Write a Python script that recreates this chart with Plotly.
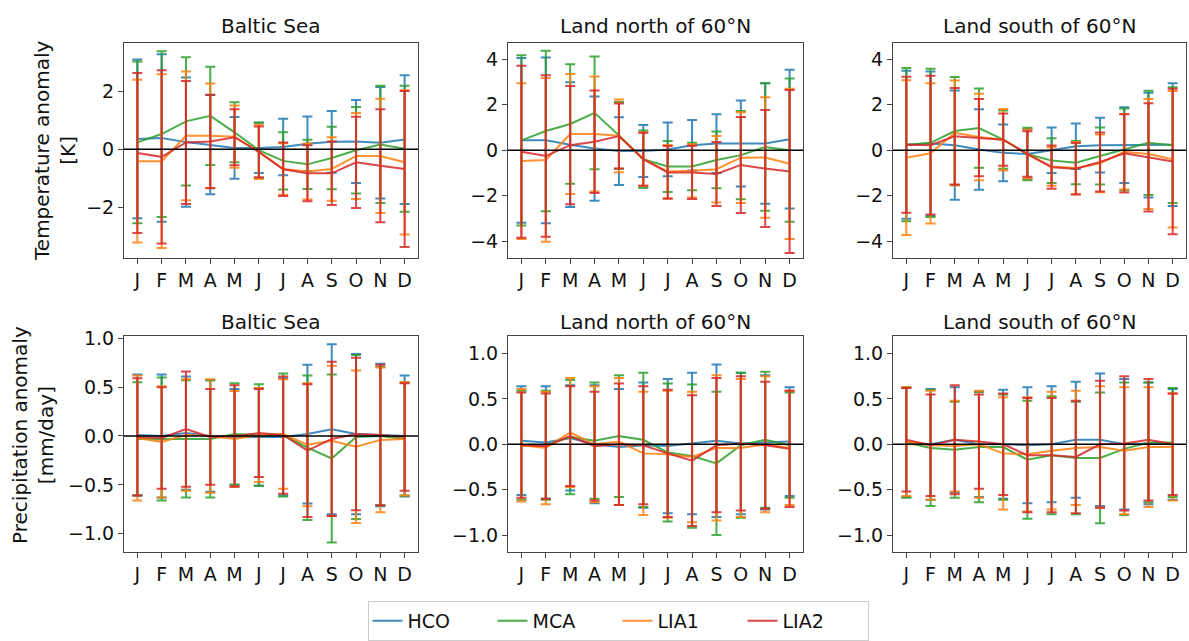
import plotly.graph_objects as go
from plotly.subplots import make_subplots

MONTHS = ["J", "F", "M", "A", "M", "J", "J", "A", "S", "O", "N", "D"]
SERIES = ["HCO", "MCA", "LIA1", "LIA2"]
COLORS = ["#1f77b4", "#2ca02c", "#ff7f0e", "#d62728"]

# ---------- Temperature anomaly [K] ----------
BALTIC_T_HCO = [0.36, 0.39, 0.25, 0.16, 0.05, 0.05, 0.08, 0.19, 0.26, 0.27, 0.23, 0.34]
BALTIC_T_HCO_ERR = [2.75, 2.90, 2.24, 1.72, 1.07, 0.87, 0.98, 0.95, 1.07, 1.44, 1.93, 2.23]
BALTIC_T_MCA = [0.24, 0.53, 0.97, 1.16, 0.59, -0.03, -0.40, -0.52, -0.30, -0.03, 0.17, 0.02]
BALTIC_T_MCA_ERR = [2.80, 2.87, 2.22, 1.70, 1.04, 0.96, 0.99, 0.85, 1.08, 1.50, 2.03, 2.18]
BALTIC_T_LIA1 = [-0.41, -0.41, 0.47, 0.47, 0.44, -0.09, -0.68, -0.77, -0.68, -0.23, -0.23, -0.45]
BALTIC_T_LIA1_ERR = [2.82, 3.01, 2.23, 1.81, 1.08, 0.94, 0.89, 0.97, 1.10, 1.49, 1.98, 2.50]
BALTIC_T_LIA2 = [-0.13, -0.26, 0.24, 0.27, 0.42, -0.09, -0.69, -0.83, -0.83, -0.45, -0.57, -0.68]
BALTIC_T_LIA2_ERR = [2.77, 3.00, 2.13, 1.62, 0.97, 0.88, 0.93, 0.97, 1.10, 1.58, 1.96, 2.70]

NORTH_T_HCO = [0.43, 0.43, 0.24, 0.07, -0.04, -0.04, 0.03, 0.22, 0.29, 0.29, 0.29, 0.48]
NORTH_T_HCO_ERR = [3.62, 3.64, 2.74, 2.29, 1.49, 1.14, 1.18, 1.11, 1.29, 1.89, 2.65, 3.05]
NORTH_T_MCA = [0.43, 0.84, 1.15, 1.64, 0.65, -0.40, -0.72, -0.72, -0.43, -0.22, 0.14, 0.00]
NORTH_T_MCA_ERR = [3.74, 3.53, 2.63, 2.48, 1.47, 1.26, 1.12, 1.04, 1.25, 1.94, 2.80, 3.15]
NORTH_T_LIA1 = [-0.48, -0.43, 0.71, 0.71, 0.63, -0.40, -0.94, -0.91, -0.84, -0.33, -0.32, -0.60]
NORTH_T_LIA1_ERR = [3.42, 3.60, 2.64, 2.53, 1.60, 1.17, 1.17, 1.17, 1.46, 1.99, 2.65, 3.30]
NORTH_T_LIA2 = [-0.07, -0.26, 0.22, 0.37, 0.62, -0.40, -0.98, -0.98, -1.05, -0.65, -0.81, -0.94]
NORTH_T_LIA2_ERR = [3.78, 3.55, 2.60, 2.25, 1.43, 1.16, 1.16, 1.17, 1.41, 2.11, 2.57, 3.58]

SOUTH_T_HCO = [0.24, 0.29, 0.22, 0.03, -0.12, -0.17, 0.00, 0.17, 0.22, 0.22, 0.22, 0.24]
SOUTH_T_HCO_ERR = [3.25, 3.17, 2.40, 1.77, 1.25, 1.10, 1.00, 1.00, 1.20, 1.66, 2.30, 2.70]
SOUTH_T_MCA = [0.24, 0.32, 0.84, 0.97, 0.46, -0.17, -0.46, -0.55, -0.26, 0.03, 0.32, 0.22]
SOUTH_T_MCA_ERR = [3.37, 3.26, 2.38, 1.74, 1.28, 1.15, 0.98, 0.95, 1.25, 1.80, 2.29, 2.54]
SOUTH_T_LIA1 = [-0.33, -0.14, 0.76, 0.58, 0.46, -0.17, -0.72, -0.79, -0.58, -0.07, -0.17, -0.40]
SOUTH_T_LIA1_ERR = [3.40, 3.08, 2.30, 1.90, 1.35, 1.08, 0.85, 1.15, 1.27, 1.66, 2.42, 3.00]
SOUTH_T_LIA2 = [0.24, 0.22, 0.61, 0.55, 0.46, -0.17, -0.75, -0.82, -0.52, -0.14, -0.32, -0.50]
SOUTH_T_LIA2_ERR = [2.99, 3.05, 2.12, 1.70, 1.15, 1.00, 0.95, 1.13, 1.30, 1.72, 2.38, 3.20]

# ---------- Precipitation anomaly [mm/day] ----------
BALTIC_P_HCO = [0.01, 0.00, 0.03, 0.00, -0.01, -0.01, -0.01, 0.02, 0.07, 0.02, 0.01, 0.00]
BALTIC_P_HCO_ERR = [0.62, 0.63, 0.58, 0.57, 0.49, 0.50, 0.60, 0.71, 0.87, 0.82, 0.73, 0.62]
BALTIC_P_MCA = [-0.03, -0.03, -0.03, -0.03, 0.02, 0.01, 0.01, -0.12, -0.23, -0.01, 0.00, -0.03]
BALTIC_P_MCA_ERR = [0.58, 0.63, 0.60, 0.60, 0.52, 0.52, 0.63, 0.74, 0.86, 0.84, 0.71, 0.58]
BALTIC_P_LIA1 = [-0.02, -0.06, 0.01, 0.00, -0.03, 0.01, 0.02, -0.09, -0.05, -0.11, -0.04, -0.03]
BALTIC_P_LIA1_ERR = [0.64, 0.57, 0.57, 0.58, 0.49, 0.48, 0.56, 0.63, 0.77, 0.78, 0.74, 0.58]
BALTIC_P_LIA2 = [-0.01, -0.02, 0.07, -0.01, 0.00, 0.03, 0.01, -0.15, -0.03, 0.02, 0.01, -0.01]
BALTIC_P_LIA2_ERR = [0.60, 0.52, 0.59, 0.49, 0.52, 0.45, 0.60, 0.68, 0.79, 0.78, 0.72, 0.55]

NORTH_P_HCO = [0.04, 0.02, 0.07, 0.00, -0.03, -0.01, -0.02, 0.01, 0.04, 0.01, 0.02, 0.03]
NORTH_P_HCO_ERR = [0.60, 0.62, 0.58, 0.65, 0.64, 0.69, 0.74, 0.78, 0.84, 0.78, 0.74, 0.60]
NORTH_P_MCA = [-0.01, -0.01, 0.08, 0.04, 0.09, 0.05, -0.09, -0.13, -0.21, -0.01, 0.05, -0.01]
NORTH_P_MCA_ERR = [0.60, 0.60, 0.63, 0.64, 0.67, 0.74, 0.76, 0.79, 0.79, 0.80, 0.75, 0.58]
NORTH_P_LIA1 = [-0.01, -0.04, 0.13, 0.00, 0.03, -0.10, -0.11, -0.14, -0.04, -0.04, 0.00, -0.04]
NORTH_P_LIA1_ERR = [0.62, 0.62, 0.60, 0.64, 0.70, 0.68, 0.70, 0.72, 0.80, 0.76, 0.75, 0.63]
NORTH_P_LIA2 = [-0.01, -0.02, 0.09, -0.02, 0.00, -0.01, -0.10, -0.18, -0.01, 0.01, -0.01, -0.05]
NORTH_P_LIA2_ERR = [0.58, 0.58, 0.55, 0.60, 0.67, 0.65, 0.70, 0.72, 0.74, 0.74, 0.70, 0.64]

SOUTH_P_HCO = [0.02, 0.00, 0.05, 0.00, 0.00, -0.01, 0.00, 0.05, 0.05, 0.00, 0.01, 0.00]
SOUTH_P_HCO_ERR = [0.60, 0.61, 0.58, 0.58, 0.60, 0.64, 0.64, 0.64, 0.73, 0.72, 0.67, 0.61]
SOUTH_P_MCA = [0.02, -0.04, -0.06, -0.03, -0.03, -0.17, -0.12, -0.15, -0.15, -0.05, 0.02, 0.02]
SOUTH_P_MCA_ERR = [0.61, 0.64, 0.53, 0.61, 0.58, 0.65, 0.65, 0.62, 0.72, 0.73, 0.66, 0.60]
SOUTH_P_LIA1 = [0.03, -0.01, -0.02, 0.00, -0.10, -0.11, -0.07, -0.04, -0.03, -0.07, -0.03, -0.03]
SOUTH_P_LIA1_ERR = [0.60, 0.60, 0.50, 0.59, 0.62, 0.63, 0.65, 0.63, 0.67, 0.70, 0.66, 0.59]
SOUTH_P_LIA2 = [0.05, -0.01, 0.05, 0.03, 0.00, -0.12, -0.12, -0.14, 0.00, 0.01, 0.05, 0.00]
SOUTH_P_LIA2_ERR = [0.57, 0.56, 0.60, 0.52, 0.56, 0.63, 0.63, 0.62, 0.70, 0.74, 0.67, 0.56]

PANEL_TITLES = ["Baltic Sea", "Land north of 60°N", "Land south of 60°N"]

panels = [
    (1, 1, [BALTIC_T_HCO, BALTIC_T_MCA, BALTIC_T_LIA1, BALTIC_T_LIA2],
     [BALTIC_T_HCO_ERR, BALTIC_T_MCA_ERR, BALTIC_T_LIA1_ERR, BALTIC_T_LIA2_ERR]),
    (1, 2, [NORTH_T_HCO, NORTH_T_MCA, NORTH_T_LIA1, NORTH_T_LIA2],
     [NORTH_T_HCO_ERR, NORTH_T_MCA_ERR, NORTH_T_LIA1_ERR, NORTH_T_LIA2_ERR]),
    (1, 3, [SOUTH_T_HCO, SOUTH_T_MCA, SOUTH_T_LIA1, SOUTH_T_LIA2],
     [SOUTH_T_HCO_ERR, SOUTH_T_MCA_ERR, SOUTH_T_LIA1_ERR, SOUTH_T_LIA2_ERR]),
    (2, 1, [BALTIC_P_HCO, BALTIC_P_MCA, BALTIC_P_LIA1, BALTIC_P_LIA2],
     [BALTIC_P_HCO_ERR, BALTIC_P_MCA_ERR, BALTIC_P_LIA1_ERR, BALTIC_P_LIA2_ERR]),
    (2, 2, [NORTH_P_HCO, NORTH_P_MCA, NORTH_P_LIA1, NORTH_P_LIA2],
     [NORTH_P_HCO_ERR, NORTH_P_MCA_ERR, NORTH_P_LIA1_ERR, NORTH_P_LIA2_ERR]),
    (2, 3, [SOUTH_P_HCO, SOUTH_P_MCA, SOUTH_P_LIA1, SOUTH_P_LIA2],
     [SOUTH_P_HCO_ERR, SOUTH_P_MCA_ERR, SOUTH_P_LIA1_ERR, SOUTH_P_LIA2_ERR]),
]

FONT = "DejaVu Sans, Liberation Sans, sans-serif"
W, H = 1189, 641

fig = make_subplots(rows=2, cols=3)
xs = list(range(len(MONTHS)))

for (r, c, means, errs) in panels:
    for k, name in enumerate(SERIES):
        fig.add_trace(
            go.Scatter(
                x=xs, y=means[k], mode="lines", name=name, legendgroup=name,
                showlegend=(r == 1 and c == 1),
                line=dict(color=COLORS[k], width=2),
                opacity=0.85,
                error_y=dict(type="data", array=errs[k], visible=True,
                             color=COLORS[k], thickness=2, width=5),
            ),
            row=r, col=c,
        )

x_domains = [[124 / W, 418 / W], [508 / W, 803 / W], [893 / W, 1186 / W]]
y_domains = {1: [1 - 253 / H, 1 - 34 / H], 2: [1 - 551 / H, 1 - 332 / H]}
y_ranges = {1: [-3.78, 3.70], 2: [-4.76, 4.73], 3: [-4.76, 4.73],
            4: [-1.19, 1.02], 5: [-1.19, 1.19], 6: [-1.19, 1.19]}

axis_common = dict(showline=True, mirror=True, linecolor="#444", linewidth=1,
                   ticks="outside", ticklen=5, tickcolor="#444", showgrid=False,
                   zeroline=False, tickfont=dict(family=FONT, size=19, color="#111"))

for i in range(6):
    n = i + 1
    r = 1 if i < 3 else 2
    c = i % 3
    xa = "xaxis" if n == 1 else f"xaxis{n}"
    ya = "yaxis" if n == 1 else f"yaxis{n}"
    fig.layout[xa].update(domain=x_domains[c], range=[-0.55, 11.55],
                          tickmode="array", tickvals=xs, ticktext=MONTHS, **axis_common)
    yextra = dict(dtick=2, tick0=0) if r == 1 else dict(dtick=0.5, tick0=0, tickformat=".1f")
    fig.layout[ya].update(domain=y_domains[r], range=y_ranges[n], **yextra, **axis_common)
    xref = "x" if n == 1 else f"x{n}"
    yref = "y" if n == 1 else f"y{n}"
    fig.add_shape(type="line", xref=f"{xref} domain", yref=yref, x0=0, x1=1, y0=0, y1=0,
                  line=dict(color="black", width=1.5), layer="above")

annotations = []
for c in range(3):
    cx = (x_domains[c][0] + x_domains[c][1]) / 2
    for ty in (1 - 17 / H, 1 - 317 / H):
        annotations.append(dict(text=PANEL_TITLES[c], x=cx, y=ty, xref="paper", yref="paper",
                                xanchor="center", yanchor="middle", showarrow=False,
                                font=dict(family=FONT, size=20, color="#111")))
annotations.append(dict(text="Temperature anomaly<br>[K]", x=55 / W, y=1 - 143 / H,
                        xref="paper", yref="paper", xanchor="center", yanchor="middle",
                        textangle=-90, showarrow=False,
                        font=dict(family=FONT, size=20, color="#111")))
annotations.append(dict(text="Precipitation anomaly<br>[mm/day]", x=33 / W, y=1 - 432 / H,
                        xref="paper", yref="paper", xanchor="center", yanchor="middle",
                        textangle=-90, showarrow=False,
                        font=dict(family=FONT, size=20, color="#111")))

fig.update_layout(
    width=W, height=H,
    margin=dict(l=0, r=0, t=0, b=0),
    paper_bgcolor="white", plot_bgcolor="white",
    font=dict(family=FONT, size=19, color="#111"),
    annotations=annotations,
    legend=dict(orientation="h", x=618 / W, xanchor="center", y=0.0, yanchor="bottom",
                bordercolor="#cccccc", borderwidth=1, bgcolor="white",
                font=dict(family=FONT, size=19, color="#111"),
                entrywidth=80, entrywidthmode="pixels"),
)

POST = (
    "document.documentElement.style.margin='0px';"
    "document.body.style.margin='0px';document.body.style.padding='0px';"
    "document.body.style.overflow='hidden';"
    "var gd=document.getElementById('{plot_id}');"
    "gd.style.position='absolute';gd.style.left='0px';gd.style.top='0px';"
)

fig.write_html("out.html", config={"displayModeBar": False}, post_script=POST)
